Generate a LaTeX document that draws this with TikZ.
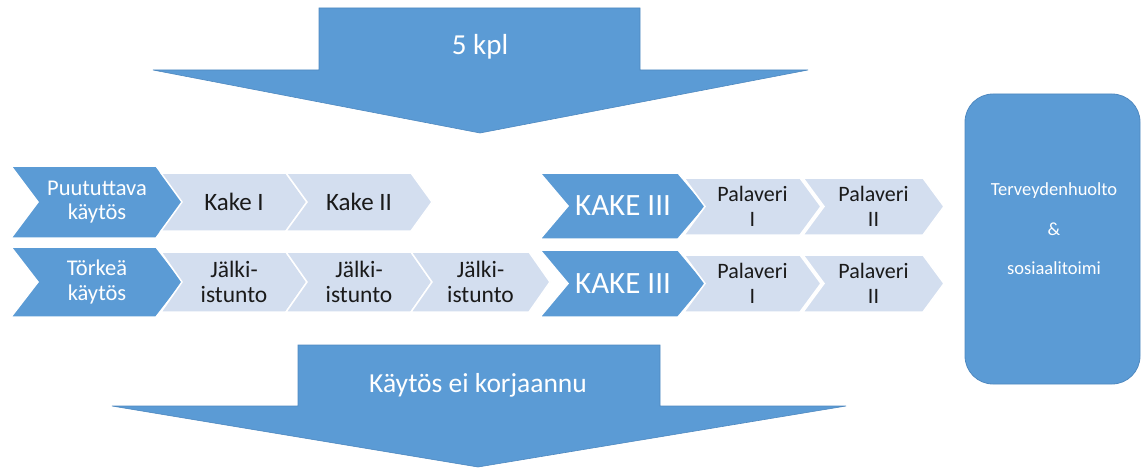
\documentclass[tikz,border=0pt]{standalone}
\usepackage{fontspec}
\setmainfont{Carlito}
\definecolor{dblue}{HTML}{5B9BD5}
\definecolor{lblue}{HTML}{D3DEEF}
\definecolor{dborder}{HTML}{4F89C0}
\definecolor{txtdark}{HTML}{1A1A1A}
\tikzset{
  darkchev/.style={fill=dblue,draw=white,line width=1.5pt},
  lightchev/.style={fill=lblue,draw=white,line width=1.5pt},
  darkchev text/.style={text=white,align=center,inner sep=0pt},
  lightchev text/.style={text=txtdark,align=center,inner sep=0pt},
  bigarrow/.style={fill=dblue,draw=dborder,line width=0.6pt},
}
% #1 name, #2 x0, #3 x1, #4 ytop, #5 ybot, #6 depth, #7 style, #8 font size, #9 text
\newcommand\chev[9]{%
  \path[#7] ({#2},{#4}) -- ({#3-#6},{#4}) -- ({#3},{(#4+#5)/2}) -- ({#3-#6},{#5})
     -- ({#2},{#5}) -- ({#2+#6},{(#4+#5)/2}) -- cycle;
  \node[#7 text,font=\fontsize{#8}{24.5}\selectfont] (#1) at ({(#2+#3)/2},{(#4+#5)/2}) {#9};
}
\begin{document}
\begin{tikzpicture}[x=1pt,y=-1pt]
\useasboundingbox (0,0) rectangle (1142,468);

% top arrow
\path[bigarrow] (319,8) -- (640,8) -- (640,70) -- (808,70) -- (480,133) -- (153,70) -- (319,70) -- cycle;
\node[text=white,font=\fontsize{29}{32}\selectfont] (kpl) at (480,47) {5 kpl};

% bottom arrow
\path[bigarrow] (298,345) -- (660,345) -- (660,406) -- (846,406) -- (478,467) -- (112,406) -- (298,406) -- cycle;
\node[text=white,font=\fontsize{27.5}{30}\selectfont] (korj) at (478,385) {Käytös ei korjaannu};

% row 1
\chev{puu}{11}{183}{166}{238}{27}{darkchev}{22.5}{Puututtava\\käytös}
\chev{kake1}{161}{307}{173}{231}{21}{lightchev}{25}{Kake I}
\chev{kake2}{286}{432}{173}{231}{21}{lightchev}{25}{Kake II}
\chev{kakeA}{540}{706}{173}{239}{28}{darkchev}{31}{KAKE III}
\chev{palA1}{684}{821}{178}{235}{21}{lightchev}{22}{Palaveri\\I}
\chev{palA2}{803}{944}{178}{235}{21}{lightchev}{22}{Palaveri\\II}

% row 2
\chev{tor}{11}{183}{247}{317}{27}{darkchev}{22.5}{Törkeä\\käytös}
\chev{jal1}{161}{307}{252}{312}{21}{lightchev}{23.5}{Jälki-\\istunto}
\chev{jal2}{286}{432}{252}{312}{21}{lightchev}{23.5}{Jälki-\\istunto}
\chev{jal3}{411}{550}{252}{312}{21}{lightchev}{23.5}{Jälki-\\istunto}
\chev{kakeB}{540}{706}{250}{317}{28}{darkchev}{31}{KAKE III}
\chev{palB1}{684}{821}{255}{312}{21}{lightchev}{22}{Palaveri\\I}
\chev{palB2}{803}{944}{255}{312}{21}{lightchev}{22}{Palaveri\\II}

% right box
\path[fill=dblue,draw=dborder,line width=0.8pt,rounded corners=28pt] (965,94) rectangle (1140,384);
\node[text=white,align=center,font=\fontsize{18.5}{39.5}\selectfont] (terv) at (1054,229) {Terveydenhuolto\\\&\\sosiaalitoimi};
\end{tikzpicture}
\end{document}
